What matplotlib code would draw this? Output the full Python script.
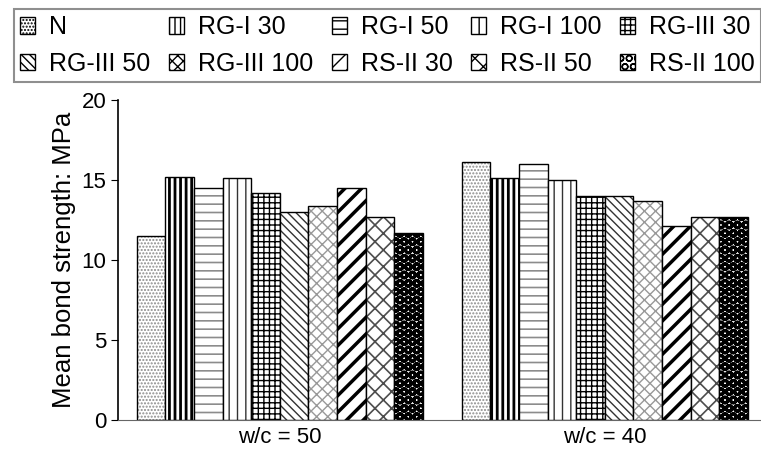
import numpy as np
import matplotlib
matplotlib.use('Agg')
import matplotlib.pyplot as plt
from matplotlib.patches import Patch

plt.rcParams['font.family'] = ['Liberation Sans', 'DejaVu Sans']
plt.rcParams['hatch.linewidth'] = 1.0

# data
groups = ['w/c = 50', 'w/c = 40']
series = ['N', 'RG-I 30', 'RG-I 50', 'RG-I 100', 'RG-III 30',
          'RG-III 50', 'RG-III 100', 'RS-II 30', 'RS-II 50', 'RS-II 100']
wc50 = [11.5, 15.2, 14.5, 15.1, 14.2, 13.0, 13.4, 14.5, 12.7, 11.7]
wc40 = [16.1, 15.1, 16.0, 15.0, 14.0, 14.0, 13.7, 12.1, 12.7, 12.7]

# hatch, hatch colour, face colour, hatch linewidth
styles = {
    'N':          ('.....', '0.55', 'white', 1.0),
    'RG-I 30':    ('|||',  'black', 'white', 2.0),
    'RG-I 50':    ('--',   '0.55', 'white', 1.2),
    'RG-I 100':   ('||',   '0.2', 'white', 1.0),
    'RG-III 30':  ('+++',  'black', 'white', 1.0),
    'RG-III 50':  ('\\\\\\\\', '0.2', 'white', 1.0),
    'RG-III 100': ('xxx',  '0.6', 'white', 1.0),
    'RS-II 30':   ('//',   'black', 'white', 2.5),
    'RS-II 50':   ('xx',   '0.3', 'white', 1.2),
    'RS-II 100':  ('OO',   'black', 'white', 2.2),
}


def set_hlw(p, lw):
    if hasattr(p, 'set_hatch_linewidth'):
        p.set_hatch_linewidth(lw)


fig = plt.figure(figsize=(7.61, 4.53), dpi=100)
ax = fig.add_axes([0.155, 0.073, 0.845, 0.706])

gap = 1.36
n = len(series)
vals = np.array([wc50, wc40])
for g in range(len(groups)):
    base = g * (n + gap)
    for i, s in enumerate(series):
        h, hc, fc, hlw = styles[s]
        x = base + i
        bars = ax.bar(x, vals[g][i], width=1.0, color=fc, edgecolor=hc, hatch=h, linewidth=0)
        for b in bars:
            set_hlw(b, hlw)
        ax.bar(x, vals[g][i], width=1.0, fill=False, edgecolor='black', linewidth=1.0)

ax.set_xlim(-1.16, 21.32)
ax.set_ylim(0, 20)
ax.set_yticks([0, 5, 10, 15, 20])
ax.set_xticks([(n - 1) / 2, (n + gap) + (n - 1) / 2])
ax.set_xticklabels(groups)
ax.tick_params(axis='x', length=0, labelsize=16, pad=5)
ax.tick_params(axis='y', labelsize=16, direction='out', length=5)
ax.spines['top'].set_visible(False)
ax.spines['right'].set_visible(False)
ax.spines['left'].set_linewidth(1.2)
ax.spines['bottom'].set_color('0.4')
ax.set_ylabel('Mean bond strength: MPa', fontsize=18.5, labelpad=4)

# legend, filled row by row
handles = []
for s in series:
    h, hc, fc, hlw = styles[s]
    p = Patch(facecolor=fc, edgecolor='black', hatch=h, label=s)
    set_hlw(p, min(hlw, 1.0))
    handles.append(p)
ncol = 5
order = [r * ncol + c for c in range(ncol) for r in range(2)]
leg = fig.legend([handles[k] for k in order], [series[k] for k in order],
                 ncol=ncol, loc='lower left', mode='expand',
                 bbox_to_anchor=(14 / 761, 1 - 82 / 453, 747 / 761, 75 / 453),
                 fontsize=18, frameon=True, fancybox=False, handlelength=0.6,
                 handleheight=0.65, handletextpad=0.55, columnspacing=0.4,
                 borderaxespad=0, borderpad=0.25, labelspacing=0.5)
leg.get_frame().set_edgecolor('0.45')
leg.get_frame().set_linewidth(1.5)

fig.savefig('out.png', dpi=100)
